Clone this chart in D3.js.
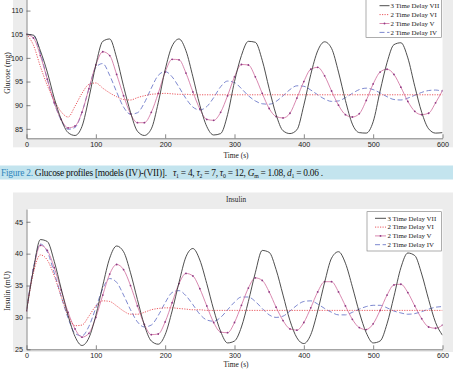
<!DOCTYPE html>
<html lang="en">
<head>
  <meta charset="UTF-8">
  <title>Glucose / Insulin profiles</title>
  <style>
    body { margin: 0; background: #fff; }
    svg { display: block; font-family: 'Liberation Serif', 'Times New Roman', serif; }
    .tick text { font-size: 7.2px; fill: #222; }
    .tick line, .domain { stroke: #555; stroke-width: 0.7px; }
  </style>
</head>
<body>
  <svg width="453" height="372"></svg>

  <script src="https://d3js.org/d3.v7.min.js"></script>
  <script>
    // sample times (s), one value every 10 s
    var time = d3.range(0, 601, 10);
    var seriesNames = ['3 Time Delay VII', '2 Time Delay VI', '2 Time Delay V', '2 Time Delay IV'];
    var timeTicks = [0, 100, 200, 300, 400, 500, 600];
    var glucoseTicks = [85, 90, 95, 100, 105, 110];
    var insulinTicks = [25, 30, 35, 40, 45];

    var glucoseVII = [105, 104.8, 101.5, 97, 91.5, 87, 84.2, 83.6, 85.5, 91.5,
      98.5, 103.5, 104, 100, 94, 88.5, 84.5, 83.6, 85, 90.5,
      97.5, 102.5, 104, 101.5, 96, 90, 85.5, 83.7, 84, 88,
      95, 100.5, 103.5, 103.3, 99.5, 93.5, 88, 84.6, 84, 84.8,
      90, 96.5, 101.5, 103.4, 102, 97, 91, 86, 84.2, 84.1,
      86.5, 93, 99, 102.8, 103.2, 100, 94, 88.5, 85, 84.1,
      84.2];
    var glucoseVI = [105, 102.7, 98.2, 94.2, 91, 88.6, 87.5, 89.8, 92.5, 94.4,
      94.7, 93.6, 92.6, 91.8, 91.2, 91.1, 91.6, 92, 92.3, 92.4,
      92.5, 92.4, 92.3, 92.3, 92.2, 92.2, 92.2, 92.2, 92.2, 92.2,
      92.2, 92.2, 92.2, 92.2, 92.2, 92.2, 92.2, 92.2, 92.2, 92.2,
      92.2, 92.2, 92.2, 92.2, 92.2, 92.2, 92.2, 92.2, 92.2, 92.2,
      92.2, 92.2, 92.2, 92.2, 92.2, 92.2, 92.2, 92.2, 92.2, 92.2,
      92.2];
    var glucoseV = [105, 104.2, 100.5, 95.5, 90.5, 87, 85.2, 85.6, 88.5, 93.5,
      98.5, 101.3, 100.5, 96.5, 92, 88.2, 86.3, 86.3, 88.5, 92.5,
      97, 99.7, 99.6, 96.8, 92.8, 89.2, 87, 86.8, 88.5, 92,
      96, 98.6, 98.5, 96, 92.5, 89.3, 87.6, 87.3, 88.3, 91.5,
      95, 97.6, 98, 96.2, 93, 90, 88, 87.5, 88.2, 91,
      94.5, 97, 97.6, 96.5, 93.8, 90.8, 88.7, 88, 88.3, 90.5,
      93.1];
    var glucoseIV = [105, 104.8, 101, 95.5, 90.5, 86.8, 84.9, 85.3, 88.5, 93.5,
      98, 98.8, 96.3, 92.8, 89.6, 88.1, 88.4, 90.5, 93.6, 96.3,
      97.1, 96, 93.8, 91.4, 89.6, 89, 89.7, 91.6, 93.9, 95.1,
      94.8, 93.5, 92, 90.9, 90.3, 90.2, 90.8, 92, 93.3, 94.1,
      94, 93.2, 92.2, 91.3, 90.8, 90.9, 91.6, 92.5, 93.3, 93.6,
      93.3, 92.6, 91.8, 91.2, 91.1, 91.5, 92.1, 92.7, 93.1, 93.2,
      92.9];

    var insulinVII = [31, 37.5, 42.2, 41.9, 38.8, 34.5, 30.3, 27, 25.6, 26.8,
      30.3, 35, 39.3, 41.2, 40.3, 37, 32.8, 28.8, 26.3, 25.8,
      27.3, 31, 35.5, 39.5, 40.8, 39, 35.3, 31.2, 27.8, 26,
      26.3, 28.5, 32.5, 37, 40.5, 40.2, 37.5, 33.5, 29.5, 26.8,
      25.9, 27.3, 31, 35.5, 39.3, 40.3, 38.5, 34.8, 30.8, 27.6,
      26, 26.3, 29, 33.3, 37.8, 40.1, 39.7, 36.8, 32.8, 29.2,
      27.2];
    var insulinVI = [31, 37, 39.8, 39, 36.5, 33.3, 30.3, 28.7, 28.8, 30.2,
      31.8, 32.6, 32.5, 31.8, 31, 30.5, 30.5, 30.8, 31.2, 31.4,
      31.5, 31.5, 31.4, 31.3, 31.2, 31.2, 31.1, 31.1, 31.1, 31.1,
      31.1, 31.1, 31.1, 31.1, 31.1, 31.1, 31.1, 31.1, 31.1, 31.1,
      31.1, 31.1, 31.1, 31.1, 31.1, 31.1, 31.1, 31.1, 31.1, 31.1,
      31.1, 31.1, 31.1, 31.1, 31.1, 31.1, 31.1, 31.1, 31.1, 31.1,
      31.1];
    var insulinV = [31, 37.5, 41.3, 40.5, 37.8, 34.3, 30.8, 28.2, 26.9, 27.5,
      30, 33.5, 36.8, 38.3, 37.5, 35, 31.8, 28.9, 27.3, 27.4,
      29.3, 32.3, 35.3, 36.9, 36.5, 34.5, 31.8, 29.2, 27.7, 27.6,
      29.2, 31.9, 34.6, 36.2, 35.8, 34, 31.6, 29.5, 28.2, 28,
      29.2, 31.5, 34, 35.6, 35.6, 34, 31.8, 29.7, 28.4, 28.1,
      29, 31.1, 33.5, 35.1, 35.2, 33.9, 31.8, 29.8, 28.5, 28.3,
      28.8];
    var insulinIV = [31, 37.8, 41.5, 40.3, 37, 33.3, 29.9, 27.5, 27.1, 28.6,
      31.5, 34.5, 36.1, 35.5, 33.5, 31.2, 29.3, 28.5, 28.8, 30.3,
      32.3, 33.9, 34.2, 33.4, 32, 30.5, 29.6, 29.4, 30, 31.2,
      32.4, 33.2, 33.2, 32.5, 31.4, 30.4, 30, 30.2, 31, 31.9,
      32.5, 32.6, 32.1, 31.4, 30.8, 30.4, 30.4, 30.8, 31.3, 31.7,
      31.9, 31.9, 31.5, 31, 30.7, 30.5, 30.6, 30.9, 31.3, 31.6,
      31.7];

    // line styles, same order as seriesNames
    var styles = [
      { color: '#3a3a3a', dash: null, width: 0.9 },
      { color: '#e8464e', dash: '1.2,1.3', width: 0.9 },
      { color: '#cf6a9c', dash: null, width: 0.8, marker: '#8d3c85' },
      { color: '#6e7bc9', dash: '5,2.6', width: 0.9 }
    ];

    var svg = d3.select('svg');
    var x0 = 26.5, x1 = 442.5;

    function drawChart(c, idx) {
      var g = svg.append('g');

      g.append('rect')
        .attr('x', 13).attr('y', c.bgTop)
        .attr('width', 440).attr('height', c.bgBottom - c.bgTop)
        .attr('fill', '#ececec');

      var x = d3.scaleLinear().domain([0, 600]).range([x0, x1]);
      var y = d3.scaleLinear().domain(c.yDomain).range([c.bottom, c.top]);

      g.append('rect')
        .attr('x', x0).attr('y', c.top)
        .attr('width', x1 - x0).attr('height', c.bottom - c.top)
        .attr('fill', '#fff');

      g.append('clipPath').attr('id', 'clip' + idx)
        .append('rect')
        .attr('x', x0).attr('y', c.top)
        .attr('width', x1 - x0).attr('height', c.bottom - c.top);

      var line = d3.line()
        .x(function(d, i) { return x(time[i]); })
        .y(function(d) { return y(d); })
        .curve(d3.curveMonotoneX);

      var plot = g.append('g').attr('clip-path', 'url(#clip' + idx + ')');

      // draw back to front: IV, V, VI, VII
      [3, 2, 1, 0].forEach(function(k) {
        var s = styles[k];
        plot.append('path')
          .datum(c.series[k])
          .attr('fill', 'none')
          .attr('stroke', s.color)
          .attr('stroke-width', s.width)
          .attr('stroke-dasharray', s.dash)
          .attr('d', line);
        if (s.marker) {
          plot.selectAll('circle.m' + k)
            .data(c.series[k])
            .enter()
            .append('circle')
            .attr('class', 'm' + k)
            .attr('cx', function(d, i) { return x(time[i]); })
            .attr('cy', function(d) { return y(d); })
            .attr('r', 0.9)
            .attr('fill', s.marker);
        }
      });

      g.append('g')
        .attr('transform', 'translate(' + x0 + ',0)')
        .call(d3.axisLeft(y).tickValues(c.yTicks).tickSizeInner(-4).tickSizeOuter(0).tickPadding(3.5));

      g.append('g')
        .attr('transform', 'translate(0,' + c.bottom + ')')
        .call(d3.axisBottom(x).tickValues(timeTicks).tickSizeInner(-4).tickSizeOuter(0).tickPadding(3.8));

      g.selectAll('.domain').attr('fill', 'none');

      g.append('text')
        .attr('x', 236).attr('y', c.xLabelY)
        .attr('text-anchor', 'middle')
        .attr('font-size', 7.4)
        .attr('fill', '#222')
        .text('Time (s)');

      g.append('text')
        .attr('transform', 'translate(9.5,' + c.yLabelMid + ') rotate(-90)')
        .attr('text-anchor', 'middle')
        .attr('font-size', 7.6)
        .attr('fill', '#222')
        .text(c.yLabel);

      if (c.title) {
        g.append('text')
          .attr('x', 236).attr('y', c.titleY)
          .attr('text-anchor', 'middle')
          .attr('font-size', 7.2)
          .attr('fill', '#222')
          .text(c.title);
      }

      // legend
      var L = c.legend;
      var lg = g.append('g');
      lg.append('rect')
        .attr('x', L.x0).attr('y', L.y0)
        .attr('width', L.x1 - L.x0).attr('height', L.y1 - L.y0)
        .attr('fill', '#fff')
        .attr('stroke', '#777')
        .attr('stroke-width', 0.6);
      seriesNames.forEach(function(name, k) {
        var s = styles[k];
        var ly = L.first + k * L.step;
        lg.append('line')
          .attr('x1', L.lineX0).attr('x2', L.lineX1)
          .attr('y1', ly).attr('y2', ly)
          .attr('stroke', s.color)
          .attr('stroke-width', s.width)
          .attr('stroke-dasharray', s.dash);
        if (s.marker) {
          lg.append('circle')
            .attr('cx', (L.lineX0 + L.lineX1) / 2).attr('cy', ly)
            .attr('r', 0.9).attr('fill', s.marker);
        }
        lg.append('text')
          .attr('x', L.textX).attr('y', ly + 2.3)
          .attr('font-size', 6.9)
          .attr('fill', '#222')
          .text(name);
      });
    }

    drawChart({
      bgTop: 0, bgBottom: 147.3,
      top: -3.6, bottom: 138.3,
      yDomain: [83, 113], yTicks: glucoseTicks,
      series: [glucoseVII, glucoseVI, glucoseV, glucoseIV],
      yLabel: 'Glucose (mg)', yLabelMid: 73,
      xLabelY: 158.3,
      legend: { x0: 366, x1: 441.5, y0: -1, y1: 37.5, first: 5.7, step: 8.9,
                lineX0: 379.5, lineX1: 389.5, textX: 390.5 }
    }, 0);

    drawChart({
      bgTop: 192.5, bgBottom: 352,
      top: 209, bottom: 349.3,
      yDomain: [25, 47], yTicks: insulinTicks,
      series: [insulinVII, insulinVI, insulinV, insulinIV],
      yLabel: 'Insulin (mU)', yLabelMid: 291,
      title: 'Insulin', titleY: 201.5,
      xLabelY: 366.5,
      legend: { x0: 367, x1: 441.5, y0: 211.7, y1: 251, first: 218.3, step: 8.8,
                lineX0: 375, lineX1: 386, textX: 387.5 }
    }, 1);

    // figure caption between the two charts
    svg.append('rect')
      .attr('x', 0).attr('y', 165.5)
      .attr('width', 453).attr('height', 14)
      .attr('fill', '#c3e4ee');

    var cap = svg.append('text')
      .attr('x', 1).attr('y', 175.5)
      .attr('font-size', 9.4)
      .attr('fill', '#111')
      .attr('textLength', 166)
      .attr('lengthAdjust', 'spacing');
    cap.append('tspan').attr('fill', '#2f86bd').text('Figure 2.');
    cap.append('tspan').text(' Glucose profiles [models (IV)-(VII)].');

    var capParts = [
      ['τ', 'i'], ['1', 's'], [' = 4, ', 'n'],
      ['τ', 'i'], ['2', 's'], [' = 7, ', 'n'],
      ['τ', 'i'], ['0', 's'], [' = 12, ', 'n'],
      ['G', 'i'], ['m', 's'], [' = 1.08, ', 'n'],
      ['d', 'i'], ['1', 's'], [' = 0.06 .', 'n']
    ];
    var math = svg.append('text')
      .attr('x', 173).attr('y', 175.5)
      .attr('font-size', 9.4)
      .attr('fill', '#111')
      .attr('textLength', 150)
      .attr('lengthAdjust', 'spacing')
      .style('white-space', 'pre');
    var lastSub = false;
    capParts.forEach(function(p) {
      var t = math.append('tspan').text(p[0]);
      if (p[1] === 'i') t.attr('font-style', 'italic');
      if (p[1] === 's') {
        t.attr('font-size', 5.8).attr('dy', 2);
        lastSub = true;
      } else if (lastSub) {
        t.attr('dy', -2);
        lastSub = false;
      }
    });
  </script>
</body>
</html>
